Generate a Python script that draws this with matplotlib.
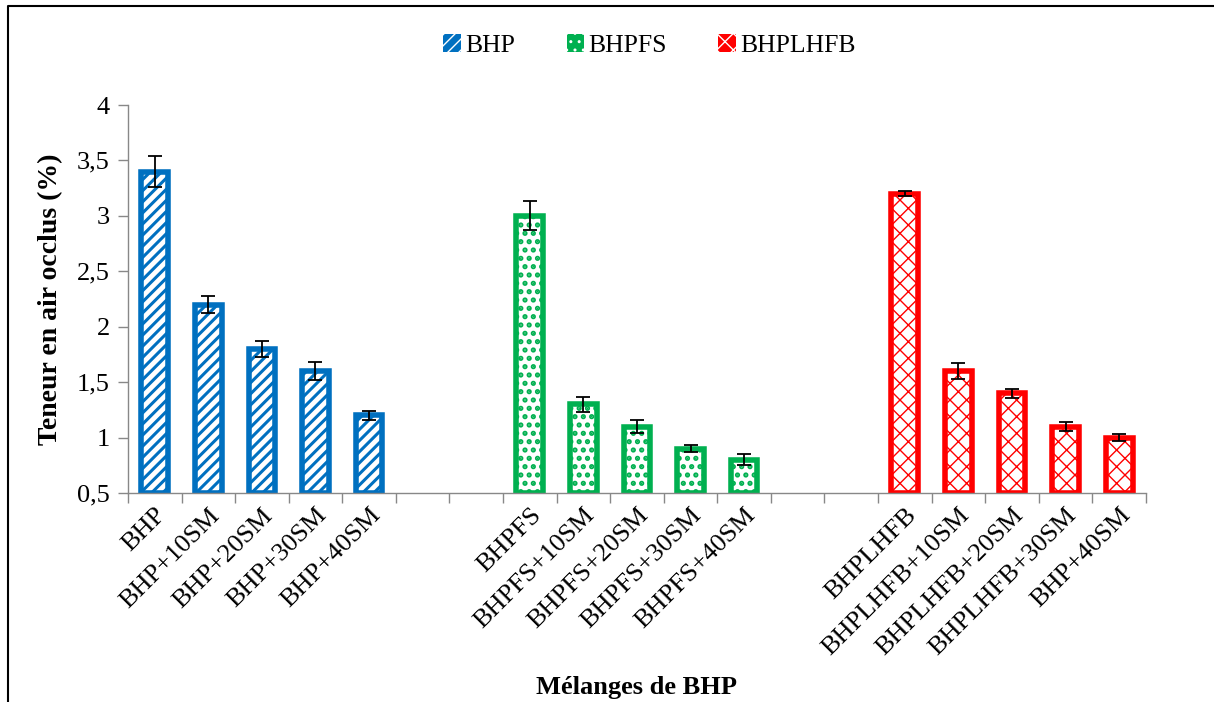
import numpy as np
import matplotlib.pyplot as plt
from matplotlib.lines import Line2D
from matplotlib.patches import Patch

plt.rcParams["font.family"] = ["Liberation Serif", "DejaVu Serif"]

# =============================================================================
# Data
# =============================================================================

groups = ["BHP", "BHPFS", "BHPLHFB"]

labels_bhp = ["BHP", "BHP+10SM", "BHP+20SM", "BHP+30SM", "BHP+40SM"]
labels_bhpfs = ["BHPFS", "BHPFS+10SM", "BHPFS+20SM", "BHPFS+30SM", "BHPFS+40SM"]
labels_bhplhfb = ["BHPLHFB", "BHPLHFB+10SM", "BHPLHFB+20SM", "BHPLHFB+30SM", "BHP+40SM"]

values_bhp = [3.4, 2.2, 1.8, 1.6, 1.2]
values_bhpfs = [3.0, 1.3, 1.1, 0.9, 0.8]
values_bhplhfb = [3.2, 1.6, 1.4, 1.1, 1.0]

err_bhp = [0.14, 0.08, 0.07, 0.08, 0.04]
err_bhpfs = [0.13, 0.07, 0.06, 0.03, 0.05]
err_bhplhfb = [0.025, 0.07, 0.04, 0.04, 0.03]

yticks = [0.5, 1, 1.5, 2, 2.5, 3, 3.5, 4]

colors = ["#0070C0", "#00B050", "#FF0000"]
hatches = ["///", "..", "xx"]
hatch_lw = [2.2, 2.5, 1.0]

# =============================================================================
# Plot
# =============================================================================

fig = plt.figure(figsize=(12.14, 7.02), dpi=100)
ax = fig.add_axes([0.1054, 0.2977, 0.8385, 0.5527])

series = [
    (labels_bhp, values_bhp, err_bhp),
    (labels_bhpfs, values_bhpfs, err_bhpfs),
    (labels_bhplhfb, values_bhplhfb, err_bhplhfb),
]

base = 0.5
tick_pos = []
tick_lab = []
for gi, (labs, vals, errs) in enumerate(series):
    x = np.arange(len(labs)) + gi * 7
    heights = np.array(vals) - base
    with plt.rc_context({"hatch.linewidth": hatch_lw[gi]}):
        ax.bar(x, heights, bottom=base, width=0.5, facecolor="white",
               edgecolor=colors[gi], hatch=hatches[gi], linewidth=4, zorder=2)
    ax.errorbar(x, vals, yerr=errs, fmt="none", ecolor="black",
                elinewidth=1.3, capsize=5, capthick=1.3, zorder=3)
    tick_pos.extend(x)
    tick_lab.extend(labs)

ax.set_xlim(-0.5, 18.5)
ax.set_ylim(0.5, 4)
ax.set_yticks(yticks)
ax.set_yticklabels([f"{v:g}".replace(".", ",") for v in yticks], fontsize=19)

ax.set_xticks(tick_pos)
ax.set_xticklabels(tick_lab, rotation=45, ha="right", rotation_mode="anchor",
                   fontsize=19)
ax.tick_params(axis="x", length=0, pad=8)
ax.set_xticks(np.arange(-0.5, 19.0, 1.0), minor=True)
ax.tick_params(axis="x", which="minor", length=7, color="#888888", width=1)
ax.tick_params(axis="y", length=7, color="#888888", width=1, pad=6)

for s in ["top", "right"]:
    ax.spines[s].set_visible(False)
for s in ["left", "bottom"]:
    ax.spines[s].set_color("#888888")
    ax.spines[s].set_linewidth(1)

ax.set_ylabel("Teneur en air occlus (%)", fontsize=20, fontweight="bold",
              labelpad=10)
fig.text(0.524, 0.02, "Mélanges de BHP", fontsize=19, fontweight="bold",
         ha="center", va="center")

with plt.rc_context({"hatch.linewidth": 1.5}):
    handles = [Patch(facecolor=c, edgecolor="white", hatch=h, linewidth=0)
               for c, h in zip(colors, hatches)]
fig.legend(handles, groups, loc="center", bbox_to_anchor=(0.535, 0.935),
           ncol=3, frameon=False, fontsize=18.5, handlelength=0.7,
           handleheight=0.7, handletextpad=0.15, columnspacing=2.0)

# outer frame (left and top only, like the cropped original)
fig.add_artist(Line2D([0.0066, 0.0066, 1.0], [0.0, 0.9915, 0.9915],
                      transform=fig.transFigure, color="black", linewidth=1.5))

fig.savefig("out.png", dpi=100)
